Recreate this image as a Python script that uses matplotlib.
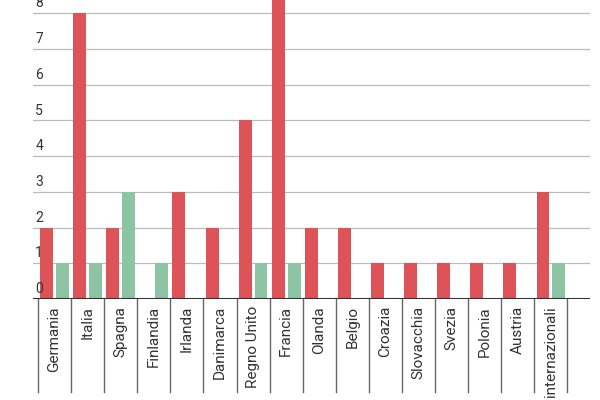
import matplotlib.pyplot as plt
import numpy as np

paesi = ["Germania", "Italia", "Spagna", "Finlandia", "Irlanda", "Danimarca",
         "Regno Unito", "Francia", "Olanda", "Belgio", "Croazia", "Slovacchia",
         "Svezia", "Polonia", "Austria", "internazionali"]
rossi = [2, 8, 2, 0, 3, 2, 5, 9, 2, 2, 1, 1, 1, 1, 1, 3]
verdi = [1, 1, 3, 1, 0, 0, 1, 1, 0, 0, 0, 0, 0, 0, 0, 1]

RED = "#de5358"
GREEN = "#8cc4a4"

plt.rcParams["font.family"] = ["Roboto", "DejaVu Sans"]
fig = plt.figure(figsize=(6, 4), dpi=100)
# axes: x 33..590 px, y 0..299 px (from top)
ax = fig.add_axes([33 / 600, 1 - 299 / 400, (590 - 33) / 600, 299 / 400])

x = np.arange(len(paesi))
ax.bar(x + 0.26, rossi, width=0.39, color=RED, zorder=3)
ax.bar(x + 0.74, verdi, width=0.39, color=GREEN, zorder=3)

ax.set_xlim(-0.15, 16.68)
ax.set_ylim(0, 8.37)
for v in range(1, 9):
    ax.axhline(v, color="#bbbbbb", lw=0.9, zorder=1)
    ax.text(-0.08, v + 0.08, str(v), fontsize=10, color="#333333", ha="left", va="bottom")
ax.text(-0.08, 0.08, "0", fontsize=10, color="#333333", ha="left", va="bottom")
ax.axhline(0, color="#333333", lw=1.5, zorder=4)

for s in ax.spines.values():
    s.set_visible(False)
ax.set_xticks([])
ax.set_yticks([])

trans = ax.get_xaxis_transform()
for i in range(len(paesi) + 1):
    ax.plot([i, i], [0, -93 / 299], transform=trans, color="#666666", lw=1, clip_on=False)
for i, p in enumerate(paesi):
    ax.text(i + 0.5, -7 / 299, p, transform=trans, rotation=90, ha="center", va="top",
            fontsize=11, color="#333333")

fig.savefig("out.png", dpi=100)
